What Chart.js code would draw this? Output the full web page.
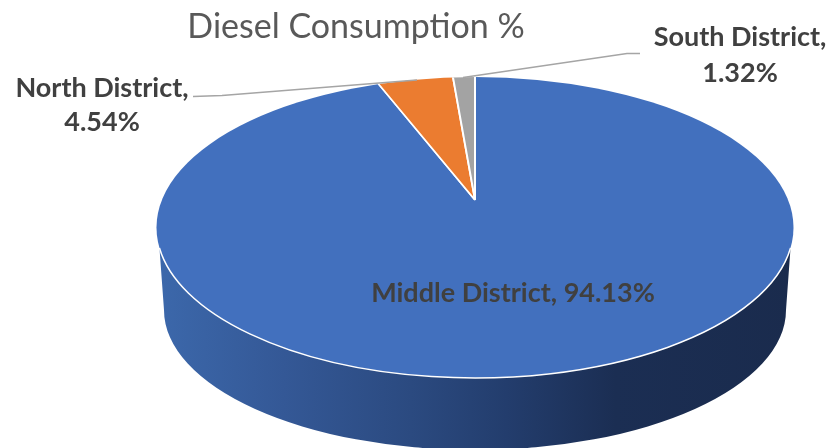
<!DOCTYPE html>
<html>
<head>
<meta charset="utf-8">
<style>html,body{margin:0;padding:0;background:#fff}canvas{display:block}</style>
<script src="https://cdn.jsdelivr.net/npm/chart.js@4"></script>
</head>
<body>
<canvas id="c" width="831" height="448"></canvas>
<script>
const chartTitle = 'Diesel Consumption %';
const categories = ['Middle District', 'North District', 'South District'];
const shares = [94.13, 4.54, 1.32];
const sliceColors = ['#4270BE', '#EB7C30', '#A3A3A3'];

// Perspective view of the disc
const topFace = {cx: 475, cy: 227.5, rx: 318.5, ry: 150.5};
const bottomFace = {cx: 475, cy: 310, rx: 311, ry: 140};
const wallStart = 248;
const stretchX = 2.155;
const wallStops = [[0, '#3c68ab'], [0.2, '#345896'], [0.4, '#2b4a80'], [0.55, '#233d6d'], [0.72, '#1b2e53'], [1, '#1a2b4d']];

const labelFont = 'bold 27px Lato';
const labelColor = '#404040';
const labelSpots = [
  {lines: i => [`${categories[i]}, ${shares[i].toFixed(2)}%`], x: 513, y: [293]},
  {lines: i => [`${categories[i]},`, `${shares[i].toFixed(2)}%`], x: 102, y: [88, 122]},
  {lines: i => [`${categories[i]},`, `${shares[i].toFixed(2)}%`], x: 740, y: [37, 73]}
];
const leaders = [
  [[193, 96.5], [222, 95.5], [417, 80]],
  [[640, 53.5], [627, 53.5], [463, 77.5]]
];

function edgeX(f, y) {
  const t = (y - f.cy) / f.ry;
  return f.rx * Math.sqrt(Math.max(0, 1 - t * t));
}

const disc3d = {
  id: 'disc3d',
  afterLayout(chart) {
    chart.titleBlock.left = 0;
    chart.titleBlock.right = 712;
  },
  beforeDatasetsDraw(chart) {
    const ctx = chart.ctx;
    const arc = chart.getDatasetMeta(0).data[0];
    const dx = edgeX(topFace, wallStart);
    const g = ctx.createLinearGradient(topFace.cx - topFace.rx, 0, topFace.cx + topFace.rx, 0);
    wallStops.forEach(s => g.addColorStop(s[0], s[1]));
    ctx.save();
    ctx.beginPath();
    ctx.moveTo(topFace.cx - dx, wallStart);
    ctx.lineTo(bottomFace.cx - bottomFace.rx, bottomFace.cy);
    ctx.ellipse(bottomFace.cx, bottomFace.cy, bottomFace.rx, bottomFace.ry, 0, Math.PI, 0, true);
    ctx.lineTo(topFace.cx + dx, wallStart);
    ctx.lineTo(topFace.cx, topFace.cy);
    ctx.closePath();
    ctx.fillStyle = g;
    ctx.fill();
    ctx.restore();

    ctx.save();
    ctx.beginPath();
    ctx.ellipse(topFace.cx, topFace.cy, topFace.rx, topFace.ry, 0, 0, Math.PI * 2);
    ctx.clip();
    ctx.translate(arc.x, arc.y);
    ctx.scale(stretchX, 1);
    ctx.translate(-arc.x, -arc.y);
  },
  afterDatasetsDraw(chart) {
    const ctx = chart.ctx;
    ctx.restore();
    const a = Math.asin((wallStart - topFace.cy) / topFace.ry);
    ctx.save();
    ctx.beginPath();
    ctx.ellipse(topFace.cx, topFace.cy, topFace.rx, topFace.ry, 0, a, Math.PI - a);
    ctx.strokeStyle = '#ffffff';
    ctx.lineWidth = 1.5;
    ctx.stroke();

    ctx.strokeStyle = '#a5a5a5';
    ctx.lineWidth = 1.5;
    leaders.forEach(l => {
      ctx.beginPath();
      l.forEach((p, i) => i ? ctx.lineTo(p[0], p[1]) : ctx.moveTo(p[0], p[1]));
      ctx.stroke();
    });

    ctx.font = labelFont;
    ctx.fillStyle = labelColor;
    ctx.textAlign = 'center';
    ctx.textBaseline = 'middle';
    labelSpots.forEach((s, i) => {
      s.lines(i).forEach((t, j) => ctx.fillText(t, s.x, s.y[j]));
    });
    ctx.restore();
  }
};

new Chart(document.getElementById('c'), {
  type: 'pie',
  data: {
    labels: categories,
    datasets: [{
      data: shares,
      backgroundColor: sliceColors,
      borderColor: '#ffffff',
      borderWidth: 0.9,
      radius: 185,
      clip: false
    }]
  },
  options: {
    responsive: false,
    animation: false,
    layout: {padding: {left: 119, right: 0, top: 0, bottom: 95.8}},
    plugins: {
      legend: {display: false},
      tooltip: {enabled: false},
      title: {
        display: true,
        text: chartTitle,
        color: '#595959',
        font: {family: 'Lato', size: 34, weight: 'normal', lineHeight: 1.2},
        padding: {top: 7, bottom: 0}
      }
    }
  },
  plugins: [disc3d]
});
</script>
</body>
</html>
